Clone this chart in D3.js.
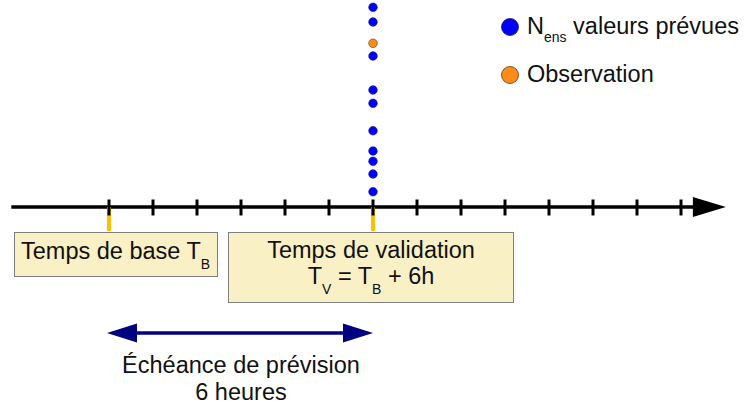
<!DOCTYPE html>
<html><head><meta charset="utf-8">
<script src="https://cdn.jsdelivr.net/npm/d3@7"></script>
<style>body{margin:0;background:#fff}svg{display:block;font-family:"Liberation Sans",Arial,sans-serif}</style>
</head><body><svg id="c" width="744" height="405"></svg>
<script>
// Data
const tickHours = [0,1,2,3,4,5,6,7,8,9,10,11,12,13];
const baseHour = 0, leadHours = 6;
const ensembleValues = [199.7,185,151,117,103.7,76.3,56,45.7,33,15.3];
const observationValues = [163.7];
const legendLabels = ["valeurs prévues","Observation"];

const FS = 23.5, SUB = 14;
const svg = d3.select("#c");
const x = d3.scaleLinear().domain([0,13]).range([109,681]);
const y = d3.scaleLinear().domain([0,207]).range([207,0]);
const axisY = y(0);

// axis line
svg.append("line").attr("x1",x(-2.22)).attr("x2",x(13.4)).attr("y1",axisY).attr("y2",axisY)
  .attr("stroke","#000").attr("stroke-width",3.5);
svg.append("path").attr("d",`M${x(13.27)},${axisY-10}L${x(14.02)},${axisY}L${x(13.27)},${axisY+10}Z`).attr("fill","#000");

// orange markers
[baseHour, baseHour+leadHours].forEach(h=>{
  svg.append("line").attr("x1",x(h)).attr("x2",x(h)).attr("y1",axisY).attr("y2",axisY+24)
    .attr("stroke","#ffbf00").attr("stroke-width",4);
});
// ticks
svg.selectAll(".tick").data(tickHours).join("line")
  .attr("x1",d=>x(d)).attr("x2",d=>x(d)).attr("y1",axisY-7.5).attr("y2",axisY+8.5)
  .attr("stroke","#000").attr("stroke-width",3);

// dots
const vx = x(baseHour+leadHours);
svg.selectAll(".ens").data(ensembleValues).join("circle")
  .attr("cx",vx).attr("cy",d=>y(d)).attr("r",4.3).attr("fill","#0000ff").attr("stroke","#1a1a5a").attr("stroke-width",0.6);
svg.selectAll(".obs").data(observationValues).join("circle")
  .attr("cx",vx).attr("cy",d=>y(d)).attr("r",4.3).attr("fill","#ff8c1a").attr("stroke","#5a3a1a").attr("stroke-width",0.6);

// legend
svg.append("circle").attr("cx",510).attr("cy",27).attr("r",8.5).attr("fill","#0000ff").attr("stroke","#1a1a5a").attr("stroke-width",0.8);
svg.append("circle").attr("cx",510).attr("cy",75).attr("r",8.5).attr("fill","#ff8c1a").attr("stroke","#5a3a1a").attr("stroke-width",0.8);
const l1 = svg.append("text").attr("x",527).attr("y",34).attr("font-size",FS).attr("fill","#111");
l1.append("tspan").text("N");
l1.append("tspan").attr("font-size",SUB).attr("dy",8).text("ens");
l1.append("tspan").attr("dy",-8).text(" "+legendLabels[0]);
svg.append("text").attr("x",527).attr("y",82).attr("font-size",FS).attr("fill","#111").text(legendLabels[1]);

// boxes
const boxFill="#f9f0c6", boxStroke="#7f7f7f";
svg.append("rect").attr("x",14.5).attr("y",232.5).attr("width",203).attr("height",44).attr("fill",boxFill).attr("stroke",boxStroke).attr("stroke-width",1);
const t1 = svg.append("text").attr("x",21).attr("y",259).attr("font-size",FS).attr("fill","#111");
t1.append("tspan").text("Temps de base T");
t1.append("tspan").attr("font-size",SUB).attr("dy",10).text("B");

svg.append("rect").attr("x",228.5).attr("y",232.5).attr("width",285).attr("height",70).attr("fill",boxFill).attr("stroke",boxStroke).attr("stroke-width",1);
svg.append("text").attr("x",371).attr("y",258).attr("font-size",FS).attr("text-anchor","middle").attr("fill","#111").text("Temps de validation");
const t2 = svg.append("text").attr("x",371).attr("y",284).attr("font-size",FS).attr("text-anchor","middle").attr("fill","#111");
t2.append("tspan").text("T");
t2.append("tspan").attr("font-size",SUB).attr("dy",10).text("V");
t2.append("tspan").attr("dy",-10).text(" = T");
t2.append("tspan").attr("font-size",SUB).attr("dy",10).text("B");
t2.append("tspan").attr("dy",-10).text(" + 6h");

// lead time arrow
const ay = 333, navy="#000080";
const ax1 = x(baseHour)-2, ax2 = x(baseHour+leadHours);
svg.append("line").attr("x1",ax1+20).attr("x2",ax2-20).attr("y1",ay).attr("y2",ay).attr("stroke",navy).attr("stroke-width",3.5);
svg.append("path").attr("d",`M${ax1},${ay}L${ax1+30},${ay-9.5}L${ax1+30},${ay+9.5}Z`).attr("fill",navy);
svg.append("path").attr("d",`M${ax2},${ay}L${ax2-30},${ay-9.5}L${ax2-30},${ay+9.5}Z`).attr("fill",navy);
svg.append("text").attr("x",241).attr("y",373).attr("font-size",FS).attr("text-anchor","middle").attr("fill","#111").text("Échéance de prévision");
svg.append("text").attr("x",241).attr("y",400).attr("font-size",FS).attr("text-anchor","middle").attr("fill","#111").text("6 heures");
</script></body></html>
